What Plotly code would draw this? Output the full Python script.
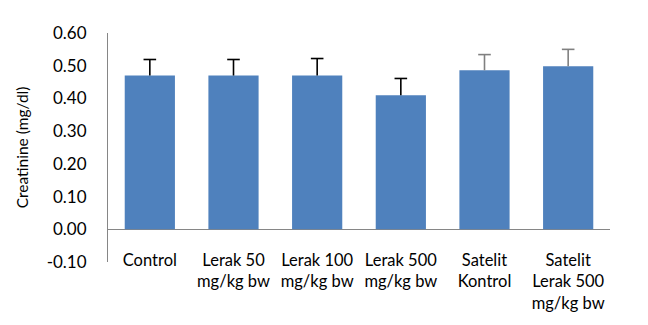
import plotly.graph_objects as go

categories = ["Control", "Lerak 50<br>mg/kg bw", "Lerak 100<br>mg/kg bw", "Lerak 500<br>mg/kg bw",
              "Satelit<br>Kontrol", "Satelit<br>Lerak 500<br>mg/kg bw"]
values = [0.47, 0.47, 0.47, 0.41, 0.486, 0.498]
errors = [0.049, 0.049, 0.052, 0.051, 0.048, 0.052]
err_colors = ["#000000", "#000000", "#000000", "#000000", "#808080", "#808080"]
ytick_vals = [-0.1, 0.0, 0.1, 0.2, 0.3, 0.4, 0.5, 0.6]
ytick_text = ["-0.10", "0.00", "0.10", "0.20", "0.30", "0.40", "0.50", "0.60"]

FONT = "Lato"
fig = go.Figure()
fig.add_trace(go.Bar(
    x=categories, y=values,
    marker=dict(color="#4F81BD", line=dict(width=0)),
    showlegend=False, hoverinfo="skip",
))

# upper-only error bars (stem + cap), built from the data arrays
for c, v, e, col in zip(categories, values, errors, err_colors):
    fig.add_trace(go.Scatter(
        x=[c, c], y=[v, v + e], mode="lines",
        line=dict(color=col, width=1.6), showlegend=False, hoverinfo="skip",
    ))
    fig.add_trace(go.Scatter(
        x=[c], y=[v + e], mode="markers",
        marker=dict(symbol="line-ew", size=9, line=dict(color=col, width=1.6)),
        showlegend=False, hoverinfo="skip",
    ))

fig.update_layout(
    width=648, height=325,
    margin=dict(l=108, r=38, t=33, b=63),
    paper_bgcolor="white", plot_bgcolor="white",
    bargap=0.4,
    font=dict(family=FONT, size=17, color="#000000"),
    xaxis=dict(categoryorder="array", categoryarray=categories,
               showline=False, showgrid=False, zeroline=False, ticks="",
               anchor="free", position=0.06,
               tickfont=dict(size=16.5)),
    yaxis=dict(range=[-0.1, 0.6], tickvals=ytick_vals, ticktext=ytick_text,
               showgrid=False, showline=True, linecolor="#868686", linewidth=1,
               zeroline=True, zerolinecolor="#868686", zerolinewidth=1,
               ticks="", ticklabelstandoff=17, tickfont=dict(size=17),
               title=dict(text="Creatinine (mg/dl)", font=dict(size=15.5), standoff=14)),
)

fig.write_html("out.html")
